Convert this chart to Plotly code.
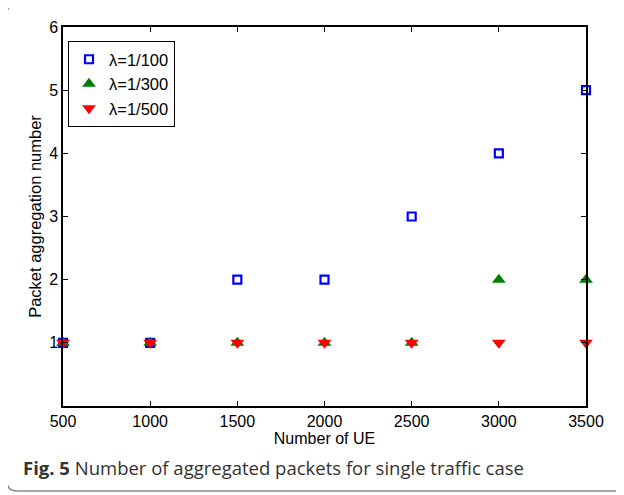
import plotly.graph_objects as go

ue = [500, 1000, 1500, 2000, 2500, 3000, 3500]
agg_100 = [1, 1, 2, 2, 3, 4, 5]
agg_300 = [1, 1, 1, 1, 1, 2, 2]
agg_500 = [1, 1, 1, 1, 1, 1, 1]
x_ticks = [500, 1000, 1500, 2000, 2500, 3000, 3500]
y_ticks = [1, 2, 3, 4, 5, 6]

OFF = 8  # page body margin
W, H = 624 - OFF, 495 - OFF
L, R, T, B = 63 - OFF, 586 - OFF, 27 - OFF, 406 - OFF
pw, ph = R - L, B - T

def px(x):
    return (x - OFF - L) / pw

def py(y):
    return (B - (y - OFF)) / ph

fig = go.Figure()
fig.add_trace(go.Scatter(x=ue, y=agg_100, mode="markers", name="λ=1/100",
                         marker=dict(symbol="square-open", size=8, color="#0000ff",
                                     line=dict(width=2.2, color="#0000ff")),
                         cliponaxis=False))
fig.add_trace(go.Scatter(x=ue, y=agg_300, mode="markers", name="λ=1/300",
                         marker=dict(symbol="triangle-up", size=12, color="#008000",
                                     line=dict(width=0)),
                         cliponaxis=False))
fig.add_trace(go.Scatter(x=ue, y=agg_500, mode="markers", name="λ=1/500",
                         marker=dict(symbol="triangle-down", size=12, color="#ff0000",
                                     line=dict(width=0)),
                         cliponaxis=False))

FONT = "Liberation Sans, Arial"
axis_common = dict(showline=True, linecolor="black", linewidth=1.5, mirror="ticks",
                   ticks="inside", ticklen=5, tickwidth=1, tickcolor="black",
                   showgrid=False, zeroline=False,
                   tickfont=dict(family=FONT, size=16, color="black"))

fig.update_xaxes(range=[500, 3500], tickvals=x_ticks, ticktext=[str(v) for v in x_ticks],
                 title=dict(text="Number of UE", standoff=0,
                            font=dict(family=FONT, size=16, color="black")),
                 **axis_common)
fig.update_yaxes(range=[0, 6], tickvals=y_ticks, ticktext=[str(v) for v in y_ticks],
                 title=dict(text="Packet aggregation number", standoff=3,
                            font=dict(family=FONT, size=16.5, color="black")),
                 **axis_common)

r = 10
x0, x1 = px(7), px(640)
y0, y1 = py(4), py(491)
rx, ry = r / pw, r / ph
path = (f"M {x1},{y0} L {x0+rx},{y0} Q {x0},{y0} {x0},{y0-ry} "
        f"L {x0},{y1+ry} Q {x0},{y1} {x0+rx},{y1} L {x1},{y1}")

fig.update_layout(
    width=W, height=H,
    margin=dict(l=L, r=W - R, t=T, b=H - B),
    plot_bgcolor="white", paper_bgcolor="white",
    legend=dict(x=px(68), y=py(41), xanchor="left", yanchor="top",
                bordercolor="black", borderwidth=1, bgcolor="white",
                font=dict(family=FONT, size=16.5, color="black"),
                itemwidth=30, tracegroupgap=0),
    shapes=[dict(type="path", xref="paper", yref="paper", path=path,
                 line=dict(color="#8a8a8a", width=1.5), layer="above")],
    annotations=[dict(xref="paper", yref="paper", x=px(21), y=py(467),
                      xanchor="left", yanchor="middle", showarrow=False,
                      text="<b>Fig. 5</b> Number of aggregated packets for single traffic case",
                      font=dict(family="Open Sans, Noto Sans", size=18.5, color="#333333"))],
)

fig.write_html("out.html")
